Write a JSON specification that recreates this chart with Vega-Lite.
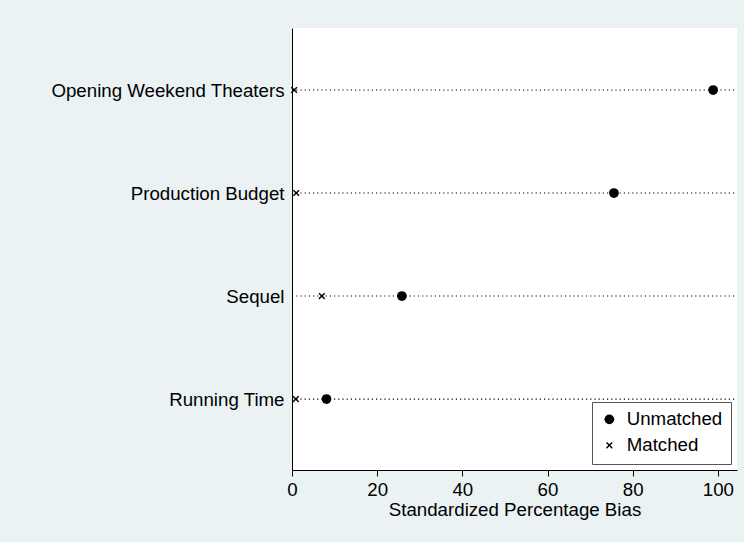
{
  "$schema": "https://vega.github.io/schema/vega-lite/v6.json",
  "width": 445,
  "height": 442,
  "autosize": "none",
  "padding": {"left": 292, "top": 28, "right": 7, "bottom": 72},
  "background": "#eaf2f3",
  "config": {
    "view": {"fill": "white", "stroke": null},
    "font": "Liberation Sans"
  },
  "datasets": {
    "rows": [
      {"variable": "Opening Weekend Theaters", "rank": 4},
      {"variable": "Production Budget", "rank": 3},
      {"variable": "Sequel", "rank": 2},
      {"variable": "Running Time", "rank": 1}
    ],
    "pts": [
      {"variable": "Opening Weekend Theaters", "rank": 4, "sample": "Unmatched", "bias": 98.9},
      {"variable": "Opening Weekend Theaters", "rank": 4, "sample": "Matched", "bias": 0.5},
      {"variable": "Production Budget", "rank": 3, "sample": "Unmatched", "bias": 75.6},
      {"variable": "Production Budget", "rank": 3, "sample": "Matched", "bias": 1.0},
      {"variable": "Sequel", "rank": 2, "sample": "Unmatched", "bias": 25.8},
      {"variable": "Sequel", "rank": 2, "sample": "Matched", "bias": 7.0},
      {"variable": "Running Time", "rank": 1, "sample": "Unmatched", "bias": 8.1},
      {"variable": "Running Time", "rank": 1, "sample": "Matched", "bias": 0.9}
    ]
  },
  "layer": [
    {
      "data": {"name": "rows"},
      "mark": {"type": "rule", "color": "#000", "strokeWidth": 1.2, "strokeDash": [1.2, 3]},
      "encoding": {
        "y": {
          "field": "rank",
          "type": "quantitative",
          "scale": {"domain": [0.311, 4.602], "nice": false, "zero": false},
          "axis": {
            "values": [1, 2, 3, 4],
            "labelExpr": "datum.value == 4 ? 'Opening Weekend Theaters' : datum.value == 3 ? 'Production Budget' : datum.value == 2 ? 'Sequel' : 'Running Time'",
            "ticks": false,
            "grid": false,
            "domainColor": "black",
            "labelColor": "black",
            "labelFontSize": 18.7,
            "labelPadding": 8,
            "labelLimit": 400,
            "labelFlush": false,
            "title": null
          }
        },
        "x": {"datum": 0, "type": "quantitative"},
        "x2": {"datum": 104.5}
      }
    },
    {
      "data": {"name": "pts"},
      "mark": {"type": "point", "filled": true, "color": "black", "opacity": 1, "strokeWidth": 0},
      "encoding": {
        "y": {"field": "rank", "type": "quantitative"},
        "x": {
          "field": "bias",
          "type": "quantitative",
          "scale": {"domain": [0, 104.5], "nice": false, "zero": false},
          "axis": {
            "values": [0, 20, 40, 60, 80, 100],
            "tickSize": 6,
            "tickColor": "black",
            "domainColor": "black",
            "labelColor": "black",
            "labelFontSize": 18.7,
            "labelPadding": 4,
            "labelFlush": false,
            "grid": false,
            "title": "Standardized Percentage Bias",
            "titleFontSize": 18.7,
            "titleFontWeight": "normal",
            "titleColor": "black",
            "titlePadding": 2
          }
        },
        "shape": {
          "field": "sample",
          "type": "nominal",
          "scale": {
            "domain": ["Unmatched", "Matched"],
            "range": ["circle", "M-1,-0.7L-0.7,-1L0,-0.3L0.7,-1L1,-0.7L0.3,0L1,0.7L0.7,1L0,0.3L-0.7,1L-1,0.7L-0.3,0Z"]
          },
          "legend": {
            "title": null,
            "orient": "bottom-right",
            "offset": 6,
            "fillColor": "white",
            "strokeColor": "#555",
            "padding": 8,
            "rowPadding": 6,
            "labelFontSize": 18.7,
            "labelColor": "black",
            "labelOffset": 8,
            "symbolFillColor": "black",
            "symbolStrokeWidth": 0
          }
        },
        "size": {
          "field": "sample",
          "type": "nominal",
          "scale": {"domain": ["Unmatched", "Matched"], "range": [95, 45]}
        }
      }
    }
  ]
}
